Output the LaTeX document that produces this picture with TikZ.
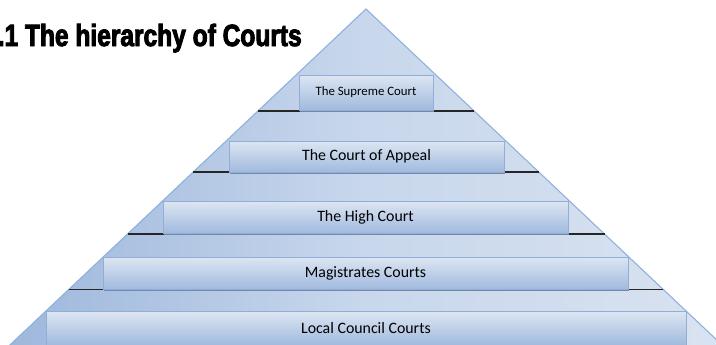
\documentclass[tikz,border=0pt]{standalone}
\usepackage{fontspec}
\setmainfont{Carlito}
\newfontfamily\titlefont[FakeStretch=0.8,BoldFeatures={FakeBold=3}]{Liberation Sans}
\usetikzlibrary{shadows}

\definecolor{pyrleft}{HTML}{9CB6DB}
\definecolor{pyrmid}{HTML}{C8D7EC}
\definecolor{pyrright}{HTML}{DAE3F0}
\definecolor{pyredge}{HTML}{8EB0DC}
\definecolor{tiertop}{HTML}{DDE6F2}
\definecolor{tierbot}{HTML}{A0BADE}
\definecolor{tieredge}{HTML}{93AED6}
\definecolor{tiershadow}{HTML}{7189AB}

\tikzstyle{tier}=[draw=tieredge, line width=0.6pt, top color=tiertop, bottom color=tierbot,
    drop shadow={shadow xshift=0.5pt, shadow yshift=-1.5pt, fill=tiershadow, opacity=1},
    inner sep=0pt, font=\fontsize{11.9}{14}\selectfont]
\tikzstyle{divider}=[line width=1pt, black!85]
\tikzstyle{heading}=[inner sep=0pt, font=\titlefont\bfseries\fontsize{23}{27}\selectfont]

\begin{document}
\begin{tikzpicture}[x=0.75pt, y=-0.75pt]
    \useasboundingbox (0,0) rectangle (716,344);
    \clip (0,0) rectangle (716,344);
% Pyramid
    \path[left color=pyrleft, right color=pyrright, middle color=pyrmid]
        (366,9) -- (738,360) -- (-6,360) -- cycle;
    \draw[pyredge, line width=0.8pt] (-6,360) -- (366,9) -- (738,360);
% Steps under each court
    \draw[divider] (257.9,111) -- (474.1,111);
    \draw[divider] (193.2,172) -- (538.8,172);
    \draw[divider] (127.5,234) -- (604.5,234);
    \draw[divider] (68.7,289.5) -- (663.3,289.5);
% Courts, top down
    \node[tier, minimum width=100.5pt, minimum height=26.25pt, font=\fontsize{9.6}{11}\selectfont]
        (supreme) at (366,92.5) {The Supreme Court};
    \node[tier, minimum width=206.25pt, minimum height=23.25pt] (appeal) at (366.5,156.5) {The Court of Appeal};
    \node[tier, minimum width=303.75pt, minimum height=24pt] (high) at (365.5,217) {The High Court};
    \node[tier, minimum width=393.75pt, minimum height=24pt] (magistrates) at (365.5,273) {Magistrates Courts};
    \node[tier, minimum width=480pt, minimum height=25.5pt] (local) at (366,328) {Local Council Courts};
% Title
    \node[heading, anchor=base east] (title) at (302,46) {1.1 The hierarchy of Courts};
\end{tikzpicture}
\end{document}
